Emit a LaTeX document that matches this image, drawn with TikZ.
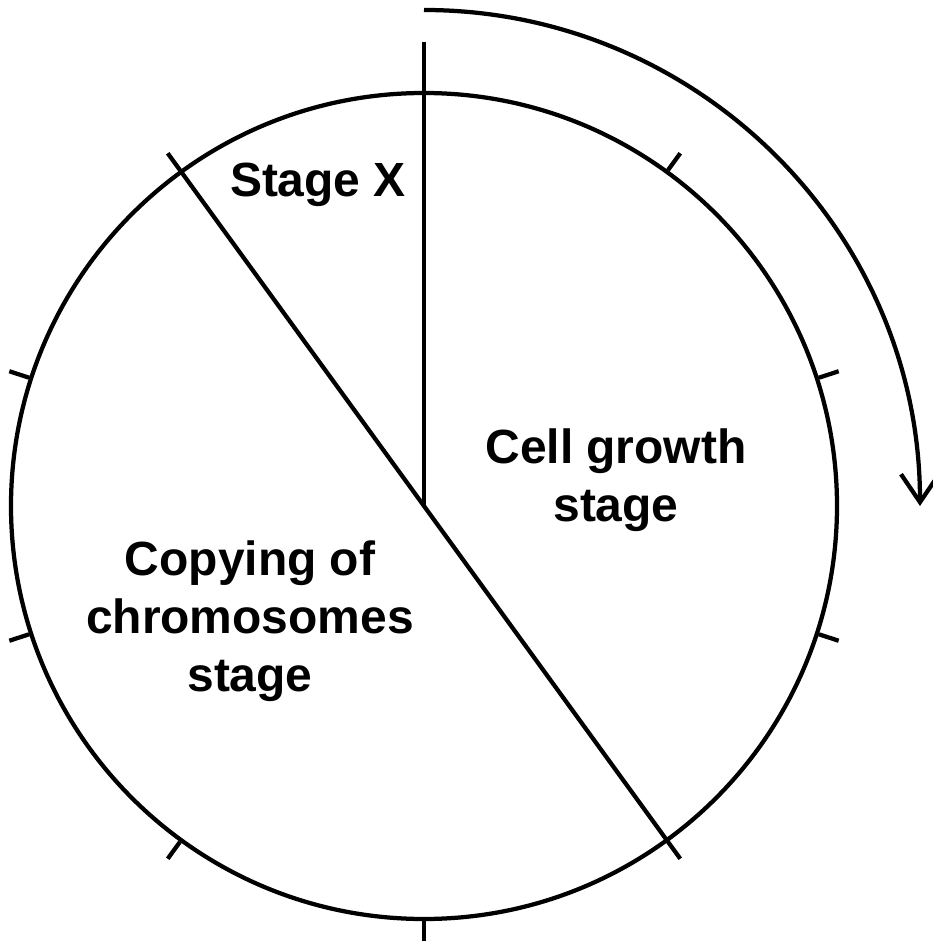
\documentclass[tikz,border=0pt]{standalone}
\usepackage{fontspec}
\setmainfont{Liberation Sans}
\usetikzlibrary{calc, arrows.meta, positioning}

\begin{document}
\begin{tikzpicture}[line width=0.085cm,
  ring/.style={draw, circle, inner sep=0pt, minimum size=16.52cm},
  notch/.style={line cap=butt},
  lbl/.style={font=\fontsize{27.3}{33}\selectfont\bfseries, align=center, inner sep=0pt},
  turn/.style={-{Straight Barb[length=0.56cm, width=0.76cm, line width=0.085cm]}}]
\useasboundingbox (-8.48,-8.70) rectangle (10.16,10.12);

% --- cycle
\coordinate (c) at (0,0);
\node[ring] (cyc) at (c) {};

% --- scale marks, ten parts
\foreach \a [count=\i] in {54,18,-18,-90,-126,-162,162}
  {\coordinate (tk\i) at (\a:8.72);
   \draw[notch] (cyc.\a) -- (tk\i);}

% --- stage borders
\coordinate (up) at (90:9.28);
\coordinate (d1) at (126:8.72);
\coordinate (d2) at (-54:8.72);
\draw (up) -- (c);
\draw (d1) -- (d2);

% --- direction
\coordinate (a0) at (90:9.92);
\draw[turn] (a0) arc[start angle=90, end angle=0, radius=9.92];

% --- stages
\node[lbl, anchor=base] (sx) at (-2.12,6.18) {Stage X};
\node[lbl] (grow) at (3.84,0.51) {Cell growth\\stage};
\node[lbl] (copy) at (-3.48,-2.31) {Copying of\\chromosomes\\stage};
\end{tikzpicture}
\end{document}
